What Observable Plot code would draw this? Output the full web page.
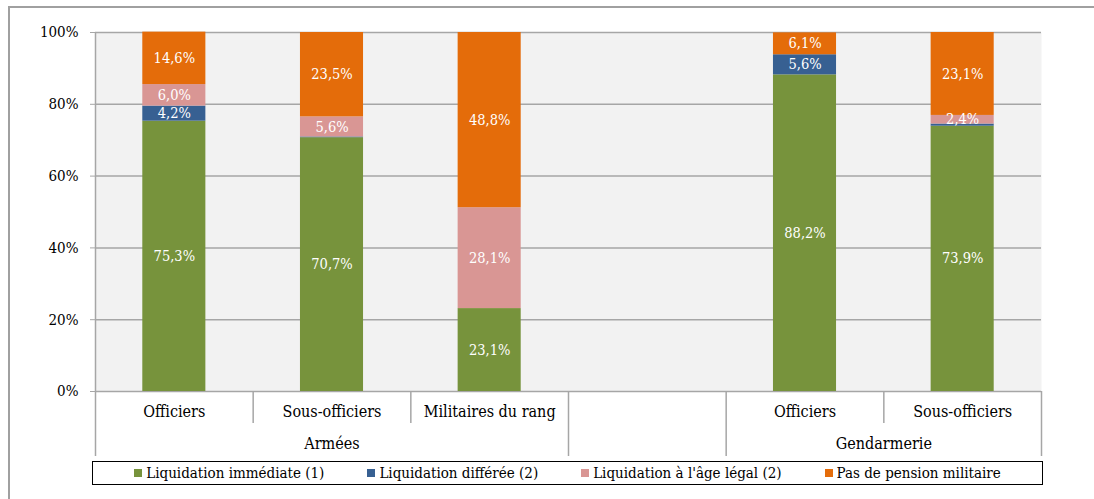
<!DOCTYPE html>
<html>
<head>
<meta charset="utf-8">
<script src="https://cdn.jsdelivr.net/npm/d3@7"></script>
<script src="https://cdn.jsdelivr.net/npm/@observablehq/plot@0.6"></script>
<style>
  html, body { margin: 0; padding: 0; background: #fff; }
  #wrap { position: relative; width: 1094px; height: 499px; overflow: hidden; font-family: "DejaVu Serif Condensed", "DejaVu Serif", serif; }
  #frame { position: absolute; left: 8px; top: 6px; width: 1100px; height: 520px; border-left: 2px solid #a0a0a0; border-top: 2px solid #a0a0a0; }
  #chart { position: absolute; left: 0; top: 0; }
  #legend { position: absolute; left: 92px; top: 461px; width: 949px; height: 22px; border: 1.5px solid #000;
            display: flex; justify-content: center; align-items: center; gap: 43px; font-size: 15px; color: #000; }
  .item { display: flex; align-items: center; white-space: nowrap; }
  .sw { width: 8px; height: 8px; margin-right: 4px; display: inline-block; }
</style>
</head>
<body>
<div id="wrap">
  <div id="frame"></div>
  <div id="chart"></div>
  <div id="legend"></div>
</div>
<script>
// ---- Data ----
const categories = ["Officiers", "Sous-officiers", "Militaires du rang", "", "Officiers", "Sous-officiers"];
const groups = ["Armées", "Gendarmerie"];
const groupOf = ["Armées", "Armées", "Armées", "", "Gendarmerie", "Gendarmerie"];
const seriesNames = ["Liquidation immédiate (1)", "Liquidation différée (2)", "Liquidation à l'âge légal (2)", "Pas de pension militaire"];
const seriesColors = ["#77933c", "#376092", "#d99694", "#e46c0a"];
const immediate = [75.3, 70.7, 23.1, null, 88.2, 73.9];
const deferred  = [4.2, 0.2, 0.0, null, 5.6, 0.6];
const legalAge  = [6.0, 5.6, 28.1, null, 0.0, 2.4];
const noPension = [14.6, 23.5, 48.8, null, 6.1, 23.1];
const yTicks = [0, 20, 40, 60, 80, 100];

// ---- Build stacked rows ----
const seriesValues = [immediate, deferred, legalAge, noPension];
const rows = [];
categories.forEach((c, i) => {
  let acc = 0;
  seriesValues.forEach((vals, s) => {
    const v = vals[i];
    if (v == null) return;
    rows.push({i, category: c, series: seriesNames[s], value: v, y1: acc, y2: acc + v});
    acc += v;
  });
});
const labelRows = rows.filter(d => d.value >= 2);

const bounds = d3.range(categories.length + 1);
const isGroupEdge = b => b === 0 || b === categories.length || groupOf[b - 1] !== groupOf[b];
const groupSpans = groups.map(g => {
  const idx = groupOf.map((x, i) => x === g ? i : -1).filter(i => i >= 0);
  return {g, mid: (d3.min(idx) + d3.max(idx) + 1) / 2};
});

const grey = "#a6a6a6";
const font = "DejaVu Serif Condensed, DejaVu Serif, serif";

const chart = Plot.plot({
  width: 1094,
  height: 458,
  marginLeft: 95,
  marginRight: 53,
  marginTop: 32,
  marginBottom: 67,
  style: {fontFamily: font, fontSize: "15px", background: "transparent", overflow: "visible"},
  x: {type: "linear", domain: [0, categories.length], axis: null},
  y: {domain: [0, 100], axis: null},
  color: {domain: seriesNames, range: seriesColors},
  marks: [
    Plot.frame({fill: "#f2f2f2", stroke: null}),
    Plot.ruleY(yTicks, {stroke: grey, strokeWidth: 1.5}),
    Plot.ruleX([0], {y1: 0, y2: 100, stroke: grey, strokeWidth: 1.5}),
    Plot.axisY({ticks: yTicks, tickFormat: d => d + "%", tickSize: 5, tickPadding: 12, stroke: grey, fill: "#000", fontSize: 15}),
    Plot.rect(rows, {x1: d => d.i, x2: d => d.i + 1, y1: "y1", y2: "y2", fill: "series", insetLeft: 47.3, insetRight: 47.3}),
    Plot.text(labelRows, {x: d => d.i + 0.5, y: d => (d.y1 + d.y2) / 2, text: d => d.value.toFixed(1).replace(".", ",") + "%", fill: "#fff", fontSize: 14.5}),
    // hierarchical x axis
    Plot.ruleX(bounds, {x: d => d, y1: 0, y2: d => isGroupEdge(d) ? -18.1 : -8.9, stroke: grey, strokeWidth: 1.5}),
    Plot.text(categories.map((c, i) => ({c, i})).filter(d => d.c), {x: d => d.i + 0.5, y: -5.8, text: "c", fill: "#000", fontSize: 16}),
    Plot.text(groupSpans, {x: "mid", y: -14.6, text: "g", fill: "#000", fontSize: 16})
  ]
});
document.getElementById("chart").appendChild(chart);

// ---- Legend ----
const legend = document.getElementById("legend");
seriesNames.forEach((name, k) => {
  const item = document.createElement("span");
  item.className = "item";
  const sw = document.createElement("span");
  sw.className = "sw";
  sw.style.background = seriesColors[k];
  item.appendChild(sw);
  item.appendChild(document.createTextNode(name));
  legend.appendChild(item);
});
</script>
</body>
</html>
